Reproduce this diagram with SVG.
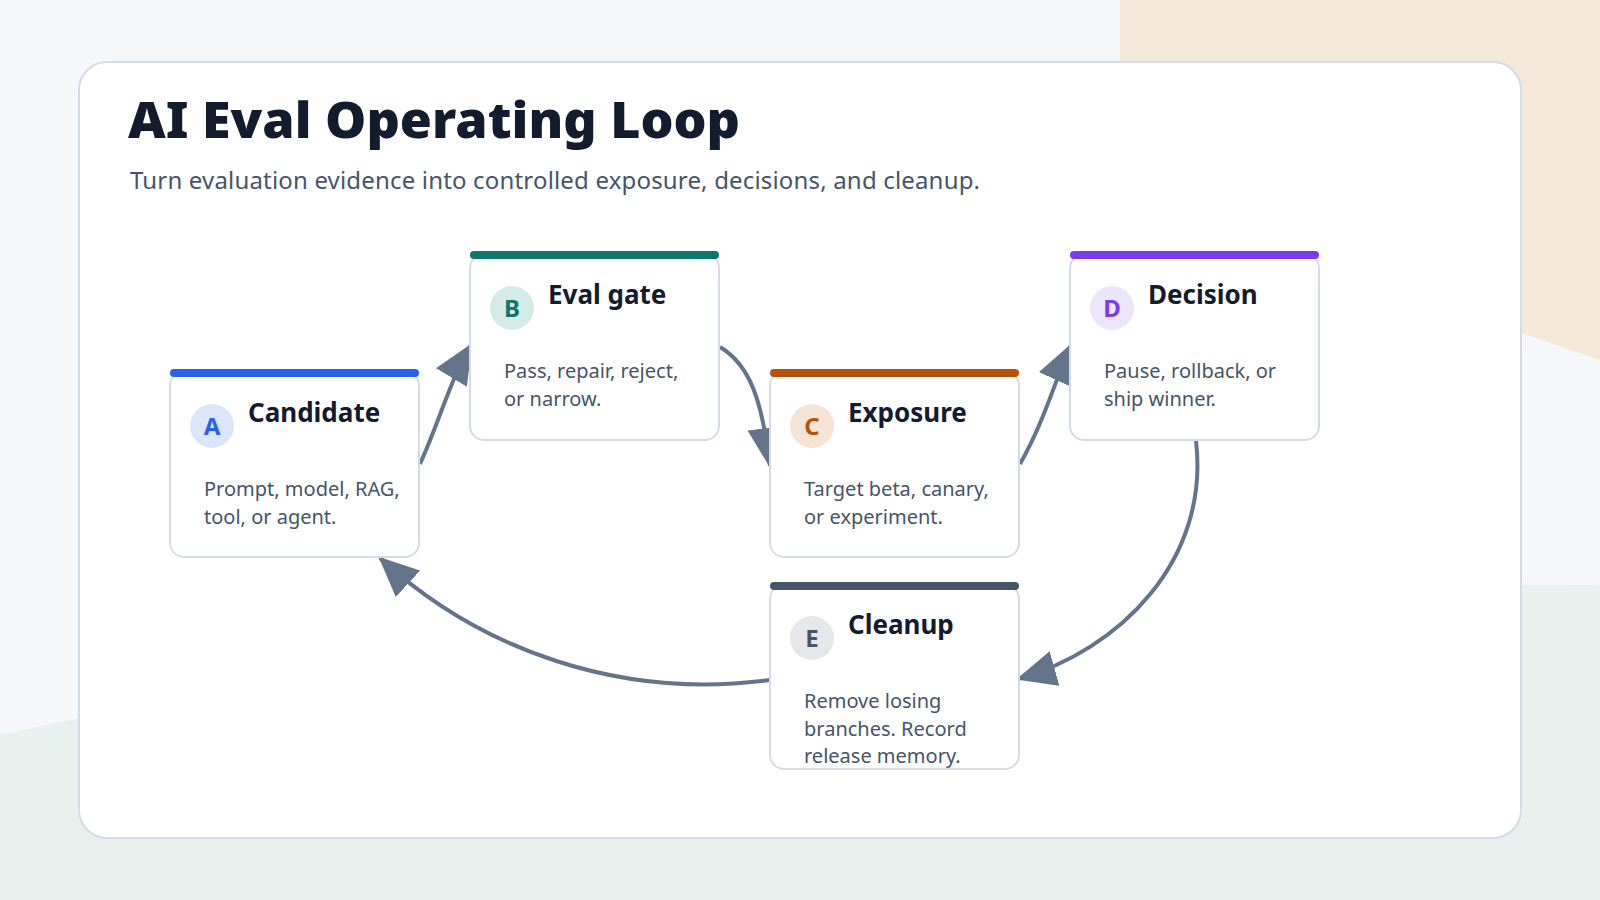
<svg xmlns="http://www.w3.org/2000/svg" width="1600" height="900" viewBox="0 0 1600 900">
<style>
.card{fill:#fff;stroke:#d5dbe6;stroke-width:2}
.t{font-family:"Noto Sans","Open Sans",sans-serif;font-weight:700;font-size:26px;fill:#131b2e}
.b{font-family:"Noto Sans","Open Sans",sans-serif;font-size:20px;fill:#475569}
.bd{font-family:"Noto Sans","Open Sans",sans-serif;font-weight:700;font-size:24px;text-anchor:middle}
.c{fill:none;stroke:#64748b;stroke-width:4}
</style>
<defs>
<marker id="ah" markerUnits="userSpaceOnUse" markerWidth="40" markerHeight="36" refX="38" refY="18" orient="auto">
<path d="M0,0 L40,18 L0,36 z" fill="#64748b"/>
</marker>
</defs>
<rect width="1600" height="900" fill="#f5f7fa"/>
<path d="M1120 0 H1600 V360 Q1400 290 1120 200 Z" fill="#f4e9d8"/>
<path d="M0 735 Q700 580 1600 585 V900 H0 Z" fill="#e8f1ee"/>
<rect x="79" y="62" width="1442" height="776" rx="28" fill="#fff" stroke="#d5dbe6" stroke-width="2"/>
<text x="128" y="138" font-family="'Noto Sans','Open Sans',sans-serif" font-weight="900" font-size="50" fill="#131b2e" textLength="612" lengthAdjust="spacingAndGlyphs">AI Eval Operating Loop</text>
<text x="130" y="189" font-family="'Noto Sans','Open Sans',sans-serif" font-size="24" fill="#475569" textLength="850" lengthAdjust="spacing">Turn evaluation evidence into controlled exposure, decisions, and cleanup.</text>
<g id="connectors">
<path class="c" marker-end="url(#ah)" d="M420 464 C440 420 450 380 471 345"/>
<path class="c" marker-end="url(#ah)" d="M720 347 C750 365 762 400 770 466"/>
<path class="c" marker-end="url(#ah)" d="M1020 464 C1045 420 1055 380 1071 345"/>
<path class="c" marker-end="url(#ah)" d="M1196 441 C1210 560 1120 650 1018 679"/>
<path class="c" marker-end="url(#ah)" d="M770 680 C620 700 480 650 380 558"/>
</g>
<g id="nodeA">
<rect class="card" x="170" y="372" width="249" height="185" rx="14"/>
<line x1="174" y1="373" x2="415" y2="373" stroke="#2563eb" stroke-width="8" stroke-linecap="round"/>
<circle cx="212" cy="426" r="22" fill="#dbe6fd"/>
<text class="bd" x="212" y="435" fill="#2563eb">A</text>
<text class="t" x="248" y="422">Candidate</text>
<text class="b" x="204" y="496">Prompt, model, RAG,</text>
<text class="b" x="204" y="524">tool, or agent.</text>
</g>
<g id="nodeB">
<rect class="card" x="470" y="254" width="249" height="186" rx="14"/>
<line x1="474" y1="255" x2="715" y2="255" stroke="#0f766e" stroke-width="8" stroke-linecap="round"/>
<circle cx="512" cy="308" r="22" fill="#d5ebe8"/>
<text class="bd" x="512" y="317" fill="#0f766e">B</text>
<text class="t" x="548" y="304">Eval gate</text>
<text class="b" x="504" y="378">Pass, repair, reject,</text>
<text class="b" x="504" y="406">or narrow.</text>
</g>
<g id="nodeC">
<rect class="card" x="770" y="372" width="249" height="185" rx="14"/>
<line x1="774" y1="373" x2="1015" y2="373" stroke="#b45309" stroke-width="8" stroke-linecap="round"/>
<circle cx="812" cy="426" r="22" fill="#f6e3d5"/>
<text class="bd" x="812" y="435" fill="#b45309">C</text>
<text class="t" x="848" y="422">Exposure</text>
<text class="b" x="804" y="496">Target beta, canary,</text>
<text class="b" x="804" y="524">or experiment.</text>
</g>
<g id="nodeD">
<rect class="card" x="1070" y="254" width="249" height="186" rx="14"/>
<line x1="1074" y1="255" x2="1315" y2="255" stroke="#7c3aed" stroke-width="8" stroke-linecap="round"/>
<circle cx="1112" cy="308" r="22" fill="#ede5fc"/>
<text class="bd" x="1112" y="317" fill="#7c3aed">D</text>
<text class="t" x="1148" y="304">Decision</text>
<text class="b" x="1104" y="378">Pause, rollback, or</text>
<text class="b" x="1104" y="406">ship winner.</text>
</g>
<g id="nodeE">
<rect class="card" x="770" y="585" width="249" height="184" rx="14"/>
<line x1="774" y1="586" x2="1015" y2="586" stroke="#475569" stroke-width="8" stroke-linecap="round"/>
<circle cx="812" cy="638" r="22" fill="#e5e7eb"/>
<text class="bd" x="812" y="647" fill="#475569">E</text>
<text class="t" x="848" y="634">Cleanup</text>
<text class="b" x="804" y="708">Remove losing</text>
<text class="b" x="804" y="736">branches. Record</text>
<text class="b" x="804" y="763">release memory.</text>
</g>
</svg>
